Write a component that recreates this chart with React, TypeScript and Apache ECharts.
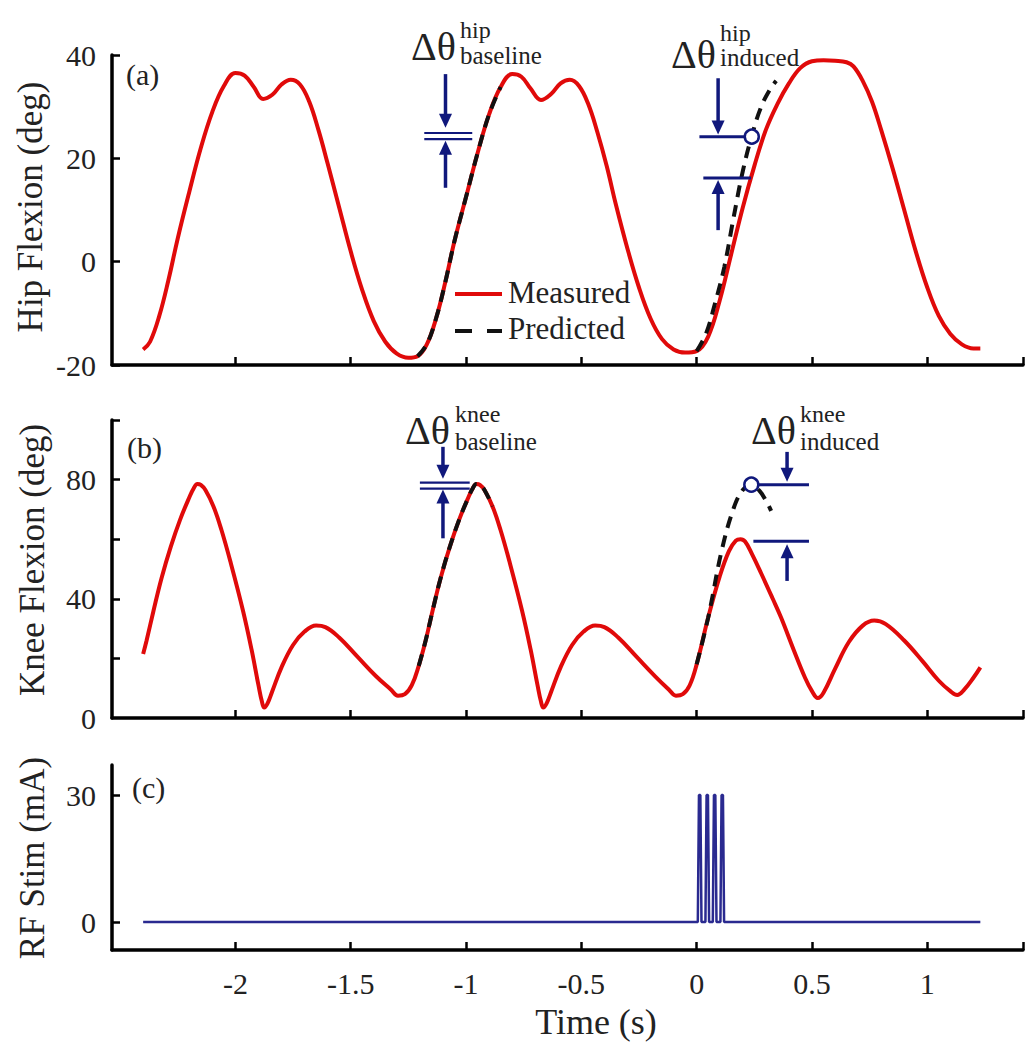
import React, { useEffect, useRef } from "react";
import * as echarts from "echarts";

// ---------------- data ----------------
const X_MIN = -2.535;
const X_MAX = 1.415;
const timeTicks = [-2, -1.5, -1, -0.5, 0, 0.5, 1];
const hipTicks = [-20, 0, 20, 40];
const kneeTicks = [20, 40, 60, 80, 100];
const kneeTickLabels = [0, 40, 80];
const stimTicks = [0, 30];

const hipMeasT = [-2.40, -2.37, -2.33, -2.29, -2.25, -2.20, -2.15, -2.10, -2.05, -2.00, -1.96, -1.92, -1.88, -1.84, -1.80, -1.76, -1.72, -1.68, -1.64, -1.60, -1.55, -1.50, -1.45, -1.40, -1.35, -1.30, -1.25, -1.21, -1.17, -1.13, -1.09, -1.05, -1.00, -0.95, -0.90, -0.85, -0.80, -0.76, -0.72, -0.675, -0.63, -0.59, -0.55, -0.51, -0.47, -0.43, -0.39, -0.35, -0.30, -0.25, -0.20, -0.15, -0.10, -0.05, 0.00, 0.05, 0.10, 0.15, 0.20, 0.25, 0.30, 0.35, 0.40, 0.45, 0.50, 0.55, 0.60, 0.65, 0.68, 0.72, 0.76, 0.80, 0.85, 0.90, 0.95, 1.00, 1.05, 1.10, 1.15, 1.20, 1.23];
const hipMeasV = [-17.0, -15.5, -10.5, -3.5, 4.5, 13.5, 22.0, 29.0, 34.0, 36.5, 36.0, 33.8, 31.5, 32.3, 34.3, 35.2, 34.3, 31.0, 25.5, 19.0, 10.5, 2.0, -5.5, -11.5, -15.5, -17.8, -18.6, -18.3, -16.0, -11.0, -4.0, 4.0, 12.5, 21.0, 28.5, 33.8, 36.3, 35.8, 33.5, 31.3, 32.5, 34.5, 35.2, 34.0, 30.5, 25.0, 18.5, 11.0, 2.5, -5.0, -11.0, -15.0, -17.0, -17.6, -17.3, -14.5, -7.5, 1.5, 10.5, 18.5, 25.5, 30.5, 34.5, 37.5, 38.8, 39.0, 38.9, 38.6, 37.8, 35.0, 31.0, 25.5, 18.0, 10.0, 2.0, -5.0, -10.5, -14.0, -16.0, -16.8, -16.8];

const hipPredBaseT = [-1.21, -1.17, -1.13, -1.09, -1.05, -1.00, -0.95, -0.90, -0.85];
const hipPredBaseV = [-18.3, -16.0, -11.0, -4.0, 4.0, 12.5, 21.0, 28.5, 33.8];
const hipPredIndT = [0.00, 0.04, 0.08, 0.12, 0.16, 0.20, 0.24, 0.28, 0.32, 0.345];
const hipPredIndV = [-17.3, -14.0, -8.0, -1.0, 8.5, 17.5, 24.5, 30.0, 33.5, 35.0];

const kneeMeasT = [
  -2.40, -2.385, -2.355, -2.32, -2.28, -2.24, -2.20, -2.18, -2.165, -2.15, -2.13, -2.095, -2.06, -2.02, -1.967, -1.93, -1.90, -1.885, -1.875, -1.86, -1.84, -1.80, -1.75, -1.70, -1.65, -1.61, -1.55, -1.47, -1.39,
  -1.325, -1.295, -1.265, -1.235, -1.205, -1.175, -1.145, -1.11, -1.07, -1.03, -0.99, -0.97, -0.955, -0.94, -0.92, -0.885, -0.85, -0.81, -0.757, -0.72, -0.69, -0.675, -0.665, -0.65, -0.63, -0.59, -0.54, -0.49, -0.44, -0.40, -0.34, -0.26, -0.18, -0.12, -0.09, -0.06, -0.03,
  0.00, 0.05, 0.10, 0.14, 0.17, 0.19, 0.21, 0.24, 0.28, 0.33, 0.366, 0.42, 0.47, 0.50, 0.525, 0.55, 0.60, 0.66, 0.72, 0.77, 0.82, 0.90, 0.98, 1.05, 1.10, 1.13, 1.16, 1.20, 1.23,
];
const kneeMeasV = [
  21.5, 26, 36, 47, 57.5, 66.5, 74, 77.2, 78.5, 78.2, 76.5, 71, 63, 52, 36, 23, 11, 5.5, 3.5, 5, 9, 17, 24.5, 29, 31, 30.5, 27, 20.5, 14,
  9.5, 7.5, 8, 11, 17.5, 26, 36, 47, 57.5, 66.5, 74, 77.2, 78.5, 78.2, 76.5, 71, 63, 52, 36, 23, 11, 5.5, 3.5, 5, 9, 17, 24.5, 29, 31, 30.5, 27, 20.5, 14, 9.5, 7.5, 8, 11,
  18, 33.7, 47.5, 56, 59.5, 60, 59.2, 55, 48.5, 40, 33.7, 23, 13.5, 9, 6.7, 8.5, 16.5, 25.5, 31, 32.7, 31.5, 26, 19, 12.5, 9, 7.7, 9.5, 13.5, 17,
];

const kneePredBaseT = [-1.205, -1.175, -1.145, -1.11, -1.07, -1.03, -0.99, -0.97, -0.955, -0.94, -0.92, -0.885];
const kneePredBaseV = [17.5, 26, 36, 47, 57.5, 66.5, 74, 77.2, 78.5, 78.2, 76.5, 71];
const kneePredIndT = [0.00, 0.05, 0.108, 0.16, 0.20, 0.237, 0.27, 0.30, 0.323];
const kneePredIndV = [18, 33.7, 56, 70.3, 76.5, 78.3, 76.5, 73, 69.5];

const stimT = [-2.40, 0.005, 0.010, 0.016, 0.021, 0.038, 0.043, 0.049, 0.054, 0.070, 0.075, 0.081, 0.086, 0.103, 0.108, 0.114, 0.119, 1.23];
const stimV = [0, 0, 30, 30, 0, 0, 30, 30, 0, 0, 30, 30, 0, 0, 30, 30, 0, 0];

// annotation anchor values (data coordinates)
const hipBaseLines = [24.9, 23.7];
const hipBaseSpan = [-1.181, -0.973];
const hipInducedPred = [0.239, 24.2];
const hipInducedMeas = [0.236, 16.2];
const kneeBaseLines = [79.0, 77.0];
const kneeBaseSpan = [-1.2, -0.984];
const kneeInducedPred = [0.237, 78.3];
const kneeInducedMeas = [0.246, 59.3];

// ---------------- styling ----------------
const FONT = '"Liberation Serif", "Times New Roman", Times, serif';
const RED = "#e00a0a";
const DASH = "#111111";
const NAVY = "#10187c";
const STIM = "#2a2a90";
const TXT = "#222222";

const zip = (t: number[], v: number[]) => t.map((x, i) => [x, v[i]]);

export default function App() {
  const ref = useRef<HTMLDivElement>(null);

  useEffect(() => {
    document.body.style.margin = "0";
    const chart = echarts.init(ref.current!, null, { renderer: "svg" });

    const grids = [
      { left: 112, right: 11, top: 55, height: 310 },
      { left: 112, right: 11, top: 420, height: 298 },
      { left: 112, right: 11, top: 765, height: 185 },
    ];

    const xAxes = [0, 1, 2].map((i) => ({
      type: "value",
      gridIndex: i,
      min: X_MIN,
      max: X_MAX,
      axisLine: { show: true, onZero: false, lineStyle: { color: "#000", width: 3.5 } },
      axisTick: {
        show: true,
        inside: true,
        length: 8,
        lineStyle: { color: "#000", width: 2.5 },
        customValues: [...timeTicks, X_MAX],
      },
      axisLabel: {
        show: i === 2,
        customValues: timeTicks,
        fontSize: 30,
        fontFamily: FONT,
        color: TXT,
        margin: 18,
      },
      splitLine: { show: false },
    }));

    const yCommon = (i: number, min: number, max: number, ticks: number[], labels: number[]) => ({
      type: "value",
      gridIndex: i,
      min,
      max,
      axisLine: { show: true, onZero: false, lineStyle: { color: "#000", width: 3.5 } },
      axisTick: {
        show: true,
        inside: true,
        length: 8,
        lineStyle: { color: "#000", width: 2.5 },
        customValues: ticks,
      },
      axisLabel: {
        show: true,
        customValues: labels,
        fontSize: 30,
        fontFamily: FONT,
        color: TXT,
        margin: 16,
      },
      splitLine: { show: false },
    });

    const yAxes = [
      yCommon(0, -20, 40, hipTicks, hipTicks),
      yCommon(1, 0, 100, kneeTicks, kneeTickLabels),
      yCommon(2, -6.6, 37.1, stimTicks, stimTicks),
    ];

    const lineSeries = (name: string, g: number, data: number[][], color: string, width: number, dashed: boolean, z: number, smooth: number | boolean) => ({
      name,
      type: "line",
      xAxisIndex: g,
      yAxisIndex: g,
      data,
      smooth,
      showSymbol: false,
      symbol: "none",
      z,
      lineStyle: { color, width, type: dashed ? [12, 8] : "solid", cap: "butt" },
    });

    chart.setOption({
      animation: false,
      textStyle: { fontFamily: FONT },
      grid: grids,
      xAxis: xAxes,
      yAxis: yAxes,
      series: [
        lineSeries("Measured", 0, zip(hipMeasT, hipMeasV), RED, 4, false, 3, 0.4),
        lineSeries("Predicted", 0, zip(hipPredBaseT, hipPredBaseV), DASH, 4, true, 4, 0.4),
        lineSeries("Predicted", 0, zip(hipPredIndT, hipPredIndV), DASH, 4, true, 4, 0.4),
        lineSeries("Measured", 1, zip(kneeMeasT, kneeMeasV), RED, 4, false, 3, 0.4),
        lineSeries("Predicted", 1, zip(kneePredBaseT, kneePredBaseV), DASH, 4, true, 4, 0.4),
        lineSeries("Predicted", 1, zip(kneePredIndT, kneePredIndV), DASH, 4, true, 4, 0.4),
        lineSeries("RF Stim", 2, zip(stimT, stimV), STIM, 2.5, false, 3, false),
      ],
    });

    const P = (g: number, t: number, v: number): number[] =>
      chart.convertToPixel({ xAxisIndex: g, yAxisIndex: g } as any, [t, v]) as number[];

    const els: any[] = [];
    const hline = (g: number, t0: number, t1: number, v: number, w = 3) => {
      const a = P(g, t0, v);
      const b = P(g, t1, v);
      els.push({ type: "line", z: 50, shape: { x1: a[0], y1: a[1], x2: b[0], y2: b[1] }, style: { stroke: NAVY, lineWidth: w } });
    };
    const varrow = (g: number, t: number, v0: number, v1: number) => {
      const a = P(g, t, v0);
      const b = P(g, t, v1);
      const dir = Math.sign(b[1] - a[1]);
      const hl = 14;
      const hw = 6.5;
      els.push({ type: "line", z: 50, shape: { x1: a[0], y1: a[1], x2: b[0], y2: b[1] - dir * (hl - 2) }, style: { stroke: NAVY, lineWidth: 3.5 } });
      els.push({
        type: "polygon",
        z: 50,
        shape: { points: [[b[0] - hw, b[1] - dir * hl], [b[0] + hw, b[1] - dir * hl], [b[0], b[1]]] },
        style: { fill: NAVY },
      });
    };
    const circle = (g: number, t: number, v: number) => {
      const c = P(g, t, v);
      els.push({ type: "circle", z: 55, shape: { cx: c[0], cy: c[1], r: 7 }, style: { fill: "#ffffff", stroke: NAVY, lineWidth: 2.5 } });
    };
    const text = (s: string, x: number, y: number, size: number, align = "left", rotation = 0) => {
      els.push({
        type: "text",
        z: 60,
        x,
        y,
        rotation,
        style: { text: s, fontSize: size, fontFamily: FONT, fill: TXT, align, verticalAlign: "middle" },
      });
    };

    // hip baseline marker
    hline(0, hipBaseSpan[0], hipBaseSpan[1], hipBaseLines[0], 2.2);
    hline(0, hipBaseSpan[0], hipBaseSpan[1], hipBaseLines[1], 2.2);
    varrow(0, -1.089, 36.3, 25.9);
    varrow(0, -1.089, 14.3, 23.4);
    // hip induced marker
    hline(0, 0.012, hipInducedPred[0], hipInducedPred[1]);
    hline(0, 0.029, hipInducedMeas[0], hipInducedMeas[1]);
    varrow(0, 0.093, 35.5, 24.6);
    varrow(0, 0.093, 6.1, 15.8);
    circle(0, hipInducedPred[0], hipInducedPred[1]);
    // knee baseline marker
    hline(1, kneeBaseSpan[0], kneeBaseSpan[1], kneeBaseLines[0], 2.2);
    hline(1, kneeBaseSpan[0], kneeBaseSpan[1], kneeBaseLines[1], 2.2);
    varrow(1, -1.1, 91, 80.3);
    varrow(1, -1.1, 60.3, 76.7);
    // knee induced marker
    hline(1, kneeInducedPred[0], 0.487, kneeInducedPred[1]);
    hline(1, kneeInducedMeas[0], 0.487, kneeInducedMeas[1]);
    varrow(1, 0.392, 89.3, 79.3);
    varrow(1, 0.392, 46, 58.3);
    circle(1, kneeInducedPred[0], kneeInducedPred[1]);

    // delta-theta labels
    text("Δθ", 411, 46, 40);
    text("hip", 460, 30, 24);
    text("baseline", 460, 55, 25);
    text("Δθ", 671, 54, 40);
    text("hip", 720, 33, 24);
    text("induced", 720, 57, 25);
    text("Δθ", 405, 430, 40);
    text("knee", 455, 414, 24);
    text("baseline", 455, 441, 25);
    text("Δθ", 751, 430, 40);
    text("knee", 800, 414, 24);
    text("induced", 800, 441, 25);

    // panel tags
    text("(a)", 126, 74, 30);
    text("(b)", 127, 447, 30);
    text("(c)", 132, 787, 30);

    // axis names
    text("Hip Flexion (deg)", 30, 207, 35, "center", Math.PI / 2);
    text("Knee Flexion (deg)", 32, 560, 35, "center", Math.PI / 2);
    text("RF Stim (mA)", 32, 858, 35, "center", Math.PI / 2);
    text("Time (s)", 596, 1022, 36, "center");

    // legend
    els.push({ type: "line", z: 50, shape: { x1: 455, y1: 294, x2: 502, y2: 294 }, style: { stroke: RED, lineWidth: 4 } });
    els.push({ type: "line", z: 50, shape: { x1: 455, y1: 331, x2: 502, y2: 331 }, style: { stroke: DASH, lineWidth: 4, lineDash: [17, 15] } });
    text("Measured", 508, 292, 31);
    text("Predicted", 508, 328, 31);

    chart.setOption({ graphic: els });

    return () => chart.dispose();
  }, []);

  return <div ref={ref} style={{ width: 1034, height: 1050 }} />;
}
